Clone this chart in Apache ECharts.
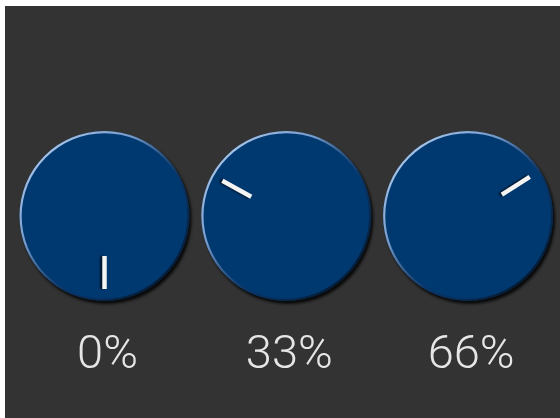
<!DOCTYPE html>
<html>
<head>
<meta charset="utf-8">
<script src="https://cdn.jsdelivr.net/npm/echarts@6/dist/echarts.min.js"></script>
<style>
  html, body { margin: 0; padding: 0; background: #fff; }
  #chart { position: absolute; left: 5px; top: 6px; width: 555px; height: 412px; }
</style>
</head>
<body>
<div id="chart"></div>
<script>
// knob values (percent)
const knobNames = ['Knob 1', 'Knob 2', 'Knob 3'];
const knobValues = [0, 33, 66];

const chart = echarts.init(document.getElementById('chart'));

const firstX = 99.5, stepX = 181.8, cy = 210, R = 85;

const rimColor = {
  type: 'linear', x: 0, y: 0, x2: 1, y2: 1,
  colorStops: [
    { offset: 0, color: 'rgba(200,222,250,1)' },
    { offset: 0.35, color: 'rgba(130,165,210,0.9)' },
    { offset: 0.6, color: 'rgba(20,50,90,0.5)' },
    { offset: 1, color: 'rgba(0,0,0,0.9)' }
  ]
};

const common = {
  type: 'gauge',
  radius: R,
  startAngle: -90,
  endAngle: -450,
  min: 0,
  max: 100,
  splitLine: { show: false },
  axisTick: { show: false },
  axisLabel: { show: false },
  title: { show: false }
};

const series = [];
knobValues.forEach((v, i) => {
  const center = [firstX + i * stepX, cy];
  // body + pointer + label
  series.push(Object.assign({}, common, {
    name: knobNames[i],
    center: center,
    axisLine: {
      roundCap: false,
      lineStyle: {
        width: R,
        color: [[1, '#003870']],
        shadowColor: 'rgba(0,0,0,0.85)',
        shadowBlur: 3,
        shadowOffsetX: 2,
        shadowOffsetY: 3
      }
    },
    pointer: {
      show: true,
      icon: 'rect',
      length: 33,
      width: 4.5,
      offsetCenter: [0, -40]
    },
    itemStyle: {
      color: '#f4f4f4',
      shadowColor: 'rgba(0,0,0,0.7)',
      shadowBlur: 2,
      shadowOffsetX: -2
    },
    detail: {
      show: true,
      offsetCenter: [3, 140],
      formatter: '{value}%',
      fontFamily: 'Roboto',
      fontWeight: 300,
      fontSize: 47,
      color: '#e6e6e6'
    },
    data: [{ value: v, name: knobNames[i] }]
  }));
  // rim highlight
  series.push(Object.assign({}, common, {
    center: center,
    silent: true,
    axisLine: {
      roundCap: false,
      lineStyle: { width: 2.2, color: [[1, rimColor]] }
    },
    pointer: { show: false },
    detail: { show: false },
    data: [{ value: 0 }]
  }));
});

chart.setOption({
  backgroundColor: '#333333',
  animation: false,
  series: series
});
</script>
</body>
</html>
